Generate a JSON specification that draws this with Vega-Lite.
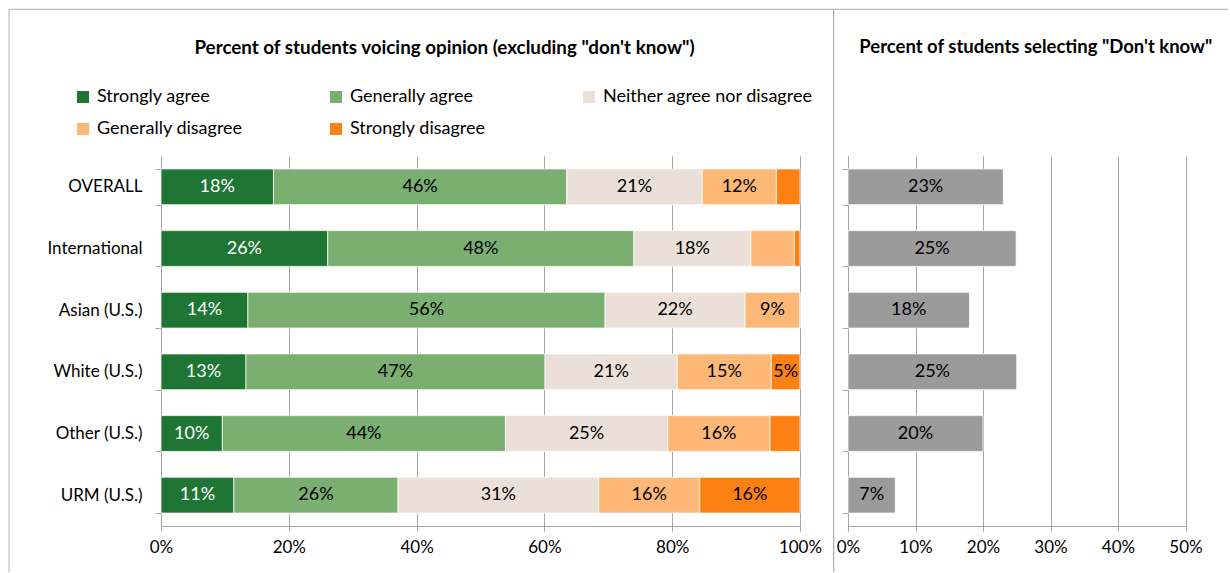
{
  "$schema": "https://vega.github.io/schema/vega-lite/v6.json",
  "padding": {"left": 8, "top": 8, "right": 0, "bottom": 0},
  "background": "white",
  "config": {
    "font": "Lato",
    "view": {"stroke": null},
    "axis": {"labelFont": "Lato", "labelFontSize": 17, "labelColor": "#000000", "domainColor": "#a6a6a6", "tickColor": "#a6a6a6", "gridColor": "#a6a6a6", "titleFont": "Lato"}
  },
  "bounds": "flush",
  "spacing": 15,
  "resolve": {"scale": {"x": "independent", "y": "independent", "color": "independent"}, "legend": {"color": "independent"}},
  "hconcat": [
    {
      "width": 137,
      "height": 370,
      "data": {"values": [
        {"x": 0, "x2": 0, "y": 1.3965, "y2": -0.1243},
        {"x": 0, "x2": 8.9, "y": 1.3965, "y2": 1.3965}
      ]},
      "mark": {"type": "rule", "color": "#b0b0b0", "strokeWidth": 1},
      "encoding": {
        "x": {"field": "x", "type": "quantitative", "scale": {"domain": [0, 1], "nice": false, "zero": false}, "axis": null},
        "x2": {"field": "x2"},
        "y": {"field": "y", "type": "quantitative", "scale": {"domain": [0, 1], "nice": false, "zero": false}, "axis": null},
        "y2": {"field": "y2"}
      }
    },
    {
      "width": 639,
      "height": 370,
      "title": {"text": "Percent of students voicing opinion (excluding \"don't know\")", "fontSize": 18.8, "fontWeight": "bold", "font": "Lato", "color": "#000000", "anchor": "middle", "frame": "group", "dx": -36, "offset": 30},
      "data": {"values": [
        {"group": "OVERALL", "response": "Strongly agree", "rank": 1, "value": 17.6, "label": "18%"},
        {"group": "OVERALL", "response": "Generally agree", "rank": 2, "value": 45.9, "label": "46%"},
        {"group": "OVERALL", "response": "Neither agree nor disagree", "rank": 3, "value": 21.2, "label": "21%"},
        {"group": "OVERALL", "response": "Generally disagree", "rank": 4, "value": 11.6, "label": "12%"},
        {"group": "OVERALL", "response": "Strongly disagree", "rank": 5, "value": 3.7, "label": ""},
        {"group": "International", "response": "Strongly agree", "rank": 1, "value": 26.1, "label": "26%"},
        {"group": "International", "response": "Generally agree", "rank": 2, "value": 47.9, "label": "48%"},
        {"group": "International", "response": "Neither agree nor disagree", "rank": 3, "value": 18.3, "label": "18%"},
        {"group": "International", "response": "Generally disagree", "rank": 4, "value": 6.8, "label": ""},
        {"group": "International", "response": "Strongly disagree", "rank": 5, "value": 0.9, "label": ""},
        {"group": "Asian (U.S.)", "response": "Strongly agree", "rank": 1, "value": 13.6, "label": "14%"},
        {"group": "Asian (U.S.)", "response": "Generally agree", "rank": 2, "value": 55.9, "label": "56%"},
        {"group": "Asian (U.S.)", "response": "Neither agree nor disagree", "rank": 3, "value": 21.9, "label": "22%"},
        {"group": "Asian (U.S.)", "response": "Generally disagree", "rank": 4, "value": 8.6, "label": "9%"},
        {"group": "Asian (U.S.)", "response": "Strongly disagree", "rank": 5, "value": 0, "label": ""},
        {"group": "White (U.S.)", "response": "Strongly agree", "rank": 1, "value": 13.3, "label": "13%"},
        {"group": "White (U.S.)", "response": "Generally agree", "rank": 2, "value": 46.8, "label": "47%"},
        {"group": "White (U.S.)", "response": "Neither agree nor disagree", "rank": 3, "value": 20.7, "label": "21%"},
        {"group": "White (U.S.)", "response": "Generally disagree", "rank": 4, "value": 14.7, "label": "15%"},
        {"group": "White (U.S.)", "response": "Strongly disagree", "rank": 5, "value": 4.5, "label": "5%"},
        {"group": "Other (U.S.)", "response": "Strongly agree", "rank": 1, "value": 9.6, "label": "10%"},
        {"group": "Other (U.S.)", "response": "Generally agree", "rank": 2, "value": 44.3, "label": "44%"},
        {"group": "Other (U.S.)", "response": "Neither agree nor disagree", "rank": 3, "value": 25.4, "label": "25%"},
        {"group": "Other (U.S.)", "response": "Generally disagree", "rank": 4, "value": 16.0, "label": "16%"},
        {"group": "Other (U.S.)", "response": "Strongly disagree", "rank": 5, "value": 4.7, "label": ""},
        {"group": "URM (U.S.)", "response": "Strongly agree", "rank": 1, "value": 11.4, "label": "11%"},
        {"group": "URM (U.S.)", "response": "Generally agree", "rank": 2, "value": 25.7, "label": "26%"},
        {"group": "URM (U.S.)", "response": "Neither agree nor disagree", "rank": 3, "value": 31.4, "label": "31%"},
        {"group": "URM (U.S.)", "response": "Generally disagree", "rank": 4, "value": 15.8, "label": "16%"},
        {"group": "URM (U.S.)", "response": "Strongly disagree", "rank": 5, "value": 15.7, "label": "16%"}
      ]},
      "encoding": {
        "y": {"field": "group", "type": "nominal",
          "scale": {"domain": ["OVERALL", "International", "Asian (U.S.)", "White (U.S.)", "Other (U.S.)", "URM (U.S.)"], "paddingInner": 0.42, "paddingOuter": 0.21},
          "axis": {"title": null, "tickBand": "extent", "tickSize": 6, "labelPadding": 13, "grid": false}}
      },
      "layer": [
        {
          "mark": {"type": "bar", "stroke": "white", "strokeWidth": 0.75},
          "encoding": {
            "x": {"field": "value", "type": "quantitative", "stack": "zero",
              "scale": {"domain": [0, 100], "nice": false},
              "axis": {"title": null, "values": [0, 20, 40, 60, 80, 100], "labelExpr": "datum.value + '%'", "grid": true, "tickSize": 5, "labelPadding": 8, "labelFlush": false}},
            "color": {"field": "response", "type": "nominal",
              "scale": {"domain": ["Strongly agree", "Generally agree", "Neither agree nor disagree", "Generally disagree", "Strongly disagree"], "range": ["#1e7534", "#7aaf71", "#eae0d7", "#fdb878", "#fd8013"]},
              "legend": {"title": null, "orient": "none", "legendX": -87, "legendY": -68, "direction": "horizontal", "columns": 3, "gridAlign": "all", "columnPadding": 20, "rowPadding": 14, "symbolType": "square", "symbolSize": 144, "symbolStrokeWidth": 0, "symbolOpacity": 1, "labelFontSize": 18, "labelFont": "Lato", "labelColor": "#000000", "labelOffset": 5, "labelLimit": 400, "padding": 0}},
            "order": {"field": "rank", "type": "quantitative"}
          }
        },
        {
          "mark": {"type": "text", "fontSize": 18, "font": "Lato", "align": "center", "baseline": "middle"},
          "encoding": {
            "x": {"field": "value", "type": "quantitative", "stack": "zero", "bandPosition": 0.5},
            "order": {"field": "rank", "type": "quantitative"},
            "text": {"field": "label"},
            "color": {"condition": {"test": "datum.response === 'Strongly agree'", "value": "#ffffff"}, "value": "#000000"}
          }
        }
      ]
    },
    {
      "width": 18,
      "height": 370,
      "data": {"values": [{"x": 1.04, "y": 1.3965, "y2": -0.1243}]},
      "mark": {"type": "rule", "color": "#9a9a9a", "strokeWidth": 1},
      "encoding": {
        "x": {"field": "x", "type": "quantitative", "scale": {"domain": [0, 1], "nice": false, "zero": false}, "axis": null},
        "y": {"field": "y", "type": "quantitative", "scale": {"domain": [0, 1], "nice": false, "zero": false}, "axis": null},
        "y2": {"field": "y2"}
      }
    },
    {
      "width": 337.5,
      "height": 370,
      "title": {"text": "Percent of students selecting \"Don't know\"", "fontSize": 18.5, "fontWeight": "bold", "font": "Lato", "color": "#000000", "anchor": "middle", "frame": "group", "dx": 19, "offset": 100},
      "data": {"values": [
        {"group": "OVERALL", "value": 23.0, "label": "23%"},
        {"group": "International", "value": 24.9, "label": "25%"},
        {"group": "Asian (U.S.)", "value": 18.0, "label": "18%"},
        {"group": "White (U.S.)", "value": 25.0, "label": "25%"},
        {"group": "Other (U.S.)", "value": 20.0, "label": "20%"},
        {"group": "URM (U.S.)", "value": 7.0, "label": "7%"}
      ]},
      "encoding": {
        "y": {"field": "group", "type": "nominal",
          "scale": {"domain": ["OVERALL", "International", "Asian (U.S.)", "White (U.S.)", "Other (U.S.)", "URM (U.S.)"], "paddingInner": 0.42, "paddingOuter": 0.21},
          "axis": {"title": null, "labels": false, "tickBand": "extent", "tickSize": 6, "grid": false}}
      },
      "layer": [
        {
          "mark": {"type": "bar", "color": "#9b9b9b", "stroke": "white", "strokeWidth": 0.75},
          "encoding": {
            "x": {"field": "value", "type": "quantitative",
              "scale": {"domain": [0, 50], "nice": false},
              "axis": {"title": null, "values": [0, 10, 20, 30, 40, 50], "labelExpr": "datum.value + '%'", "grid": true, "tickSize": 5, "labelPadding": 8, "labelFlush": false}}
          }
        },
        {
          "mark": {"type": "text", "fontSize": 18, "font": "Lato", "align": "center", "baseline": "middle", "color": "#000000"},
          "encoding": {
            "x": {"field": "value", "type": "quantitative", "stack": "zero", "bandPosition": 0.5},
            "text": {"field": "label"}
          }
        }
      ]
    }
  ]
}
